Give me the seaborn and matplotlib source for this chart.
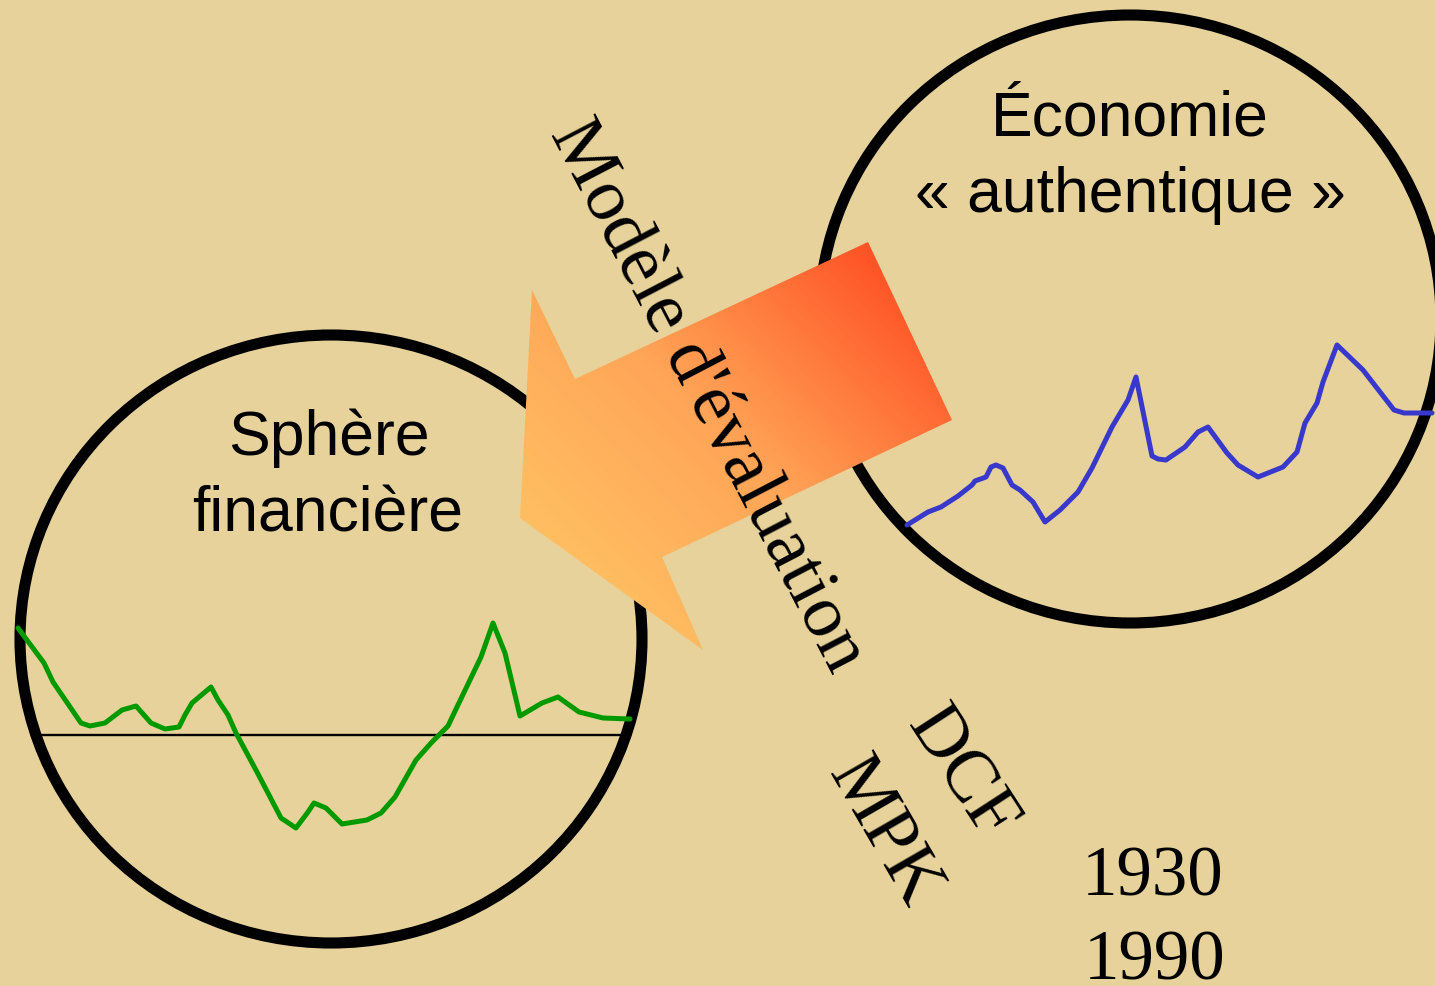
import numpy as np
import pandas as pd
import matplotlib
matplotlib.use("Agg")
import matplotlib.pyplot as plt
from matplotlib.patches import Ellipse, Polygon
from matplotlib.colors import LinearSegmentedColormap
import seaborn as sns

# ---------------- data (diagram coordinates, pixel space) ----------------
green_x = [18, 44, 53, 81, 90, 105, 122, 136, 151, 165, 179, 185, 192, 211, 218, 228,
           236, 257, 281, 296, 308, 314, 326, 342, 367, 381, 395, 416, 432, 448, 457,
           481, 493, 505, 520, 542, 558, 579, 603, 630]
green_y = [628, 663, 682, 723, 726, 723, 710, 706, 723, 729, 727, 715, 703, 687, 700, 715,
           733, 772, 818, 828, 812, 803, 808, 824, 820, 813, 797, 760, 742, 726, 707,
           657, 623, 653, 716, 703, 697, 712, 718, 719]

blue_x = [907, 928, 941, 958, 972, 975, 986, 991, 996, 1003, 1012, 1020, 1033, 1045, 1060,
          1078, 1092, 1112, 1128, 1136, 1152, 1158, 1166, 1185, 1198, 1208, 1227, 1238,
          1258, 1283, 1297, 1305, 1317, 1323, 1337, 1363, 1394, 1404, 1432]
blue_y = [525, 512, 507, 496, 485, 481, 477, 467, 465, 468, 485, 490, 502, 522, 510,
          492, 468, 427, 400, 377, 456, 459, 460, 447, 432, 427, 453, 465,
          477, 467, 452, 423, 403, 382, 345, 370, 410, 413, 413]

baseline_x = [40, 625]
baseline_y = [735, 735]

arrow_x = [868, 952, 662, 703, 520, 532, 575]
arrow_y = [242, 420, 557, 650, 518, 290, 379]

circle_labels = ["Sphère\nfinancière", "Économie\n« authentique »"]
model_label = "Modèle d'évaluation"
method_labels = ["DCF", "MPK"]
year_labels = ["1930", "1990"]

# ---------------- styling ----------------
BG = "#E6D29A"
W, H = 1435, 986
sns.set_style("white")
plt.rcParams["font.family"] = ["Liberation Sans", "DejaVu Sans"]
plt.rcParams["text.color"] = "black"

fig = plt.figure(figsize=(W / 100, H / 100), dpi=100, facecolor=BG)
ax = fig.add_axes([0, 0, 1, 1])
ax.set_facecolor(BG)

# circles
for cx, cy in [(331, 639), (1130, 319)]:
    ax.add_patch(Ellipse((cx, cy), 2 * 311, 2 * 304, fill=False, lw=8, ec="black", zorder=1))

# series lines
df_g = pd.DataFrame({"x": green_x, "y": green_y})
df_b = pd.DataFrame({"x": blue_x, "y": blue_y})
df_h = pd.DataFrame({"x": baseline_x, "y": baseline_y})
sns.lineplot(data=df_h, x="x", y="y", ax=ax, color="black", lw=1.7, sort=False,
             estimator=None, zorder=2)
sns.lineplot(data=df_g, x="x", y="y", ax=ax, color="#009A00", lw=3.6, sort=False,
             estimator=None, zorder=3)
sns.lineplot(data=df_b, x="x", y="y", ax=ax, color="#3838CC", lw=3.6, sort=False,
             estimator=None, zorder=3)

# gradient arrow
poly = Polygon(np.column_stack([arrow_x, arrow_y]), closed=True, fc="none", ec="none")
ax.add_patch(poly)
x0, x1 = min(arrow_x), max(arrow_x)
y0, y1 = min(arrow_y), max(arrow_y)
gx, gy = np.meshgrid(np.linspace(x0, x1, 300), np.linspace(y0, y1, 300))
val = (gx - gy)
val = (val - val.min()) / (val.max() - val.min())
cmap = LinearSegmentedColormap.from_list("arr", ["#FFCA66", "#FFA557", "#FF3D18"])
im = ax.imshow(val, cmap=cmap, extent=(x0, x1, y1, y0), origin="upper",
               aspect="auto", zorder=4, interpolation="bilinear")
im.set_clip_path(poly)

# texts
ax.text(329, 455, "Sphère", ha="center", va="baseline", fontsize=45, zorder=6)
ax.text(328, 532, "financière", ha="center", va="baseline", fontsize=45, zorder=6)
ax.text(1130, 135, "Économie", ha="center", va="baseline", fontsize=45, zorder=6)
ax.text(1130, 212, "« authentique »", ha="center", va="baseline", fontsize=45, zorder=6)

serif = ["Liberation Serif", "DejaVu Serif"]
ax.text(707, 396, model_label, ha="center", va="center", rotation=-62.5,
        fontsize=54, family=serif, zorder=6)
ax.text(960, 775, method_labels[0], ha="center", va="center", rotation=-57,
        fontsize=53, family=serif, zorder=6)
ax.text(883, 833, method_labels[1], ha="center", va="center", rotation=-60,
        fontsize=53, family=serif, zorder=6)
ax.text(1153, 895, year_labels[0], ha="center", va="baseline", fontsize=51,
        family=serif, zorder=6)
ax.text(1155, 980, year_labels[1], ha="center", va="baseline", fontsize=51,
        family=serif, zorder=6)

ax.set_xlim(0, W)
ax.set_ylim(H, 0)
ax.axis("off")
if ax.get_legend():
    ax.get_legend().remove()

fig.savefig("out.png", dpi=100, facecolor=BG)
